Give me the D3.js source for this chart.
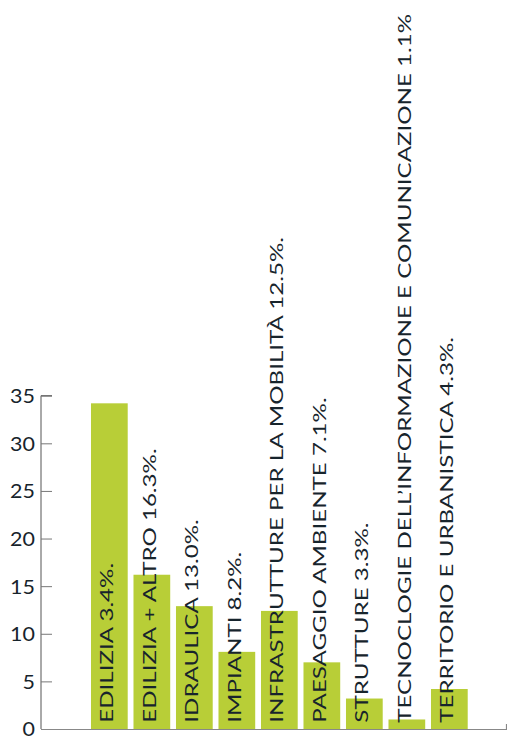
<!DOCTYPE html>
<html><head><meta charset="utf-8">
<script src="https://cdn.jsdelivr.net/npm/d3@7"></script>
<style>body{margin:0;background:#fff}svg{display:block}</style>
</head><body>
<svg id="c" width="507" height="738"></svg>
<script>
const categories = ["EDILIZIA","EDILIZIA + ALTRO","IDRAULICA","IMPIANTI","INFRASTRUTTURE PER LA MOBILITÀ","PAESAGGIO AMBIENTE","STRUTTURE","TECNOCLOGIE DELL’INFORMAZIONE E COMUNICAZIONE","TERRITORIO E URBANISTICA"];
const values = [34.2, 16.2, 12.9, 8.1, 12.4, 7.0, 3.2, 1.0, 4.2];
const labels = ["EDILIZIA 3.4%.","EDILIZIA + ALTRO 16.3%.","IDRAULICA 13.0%.","IMPIANTI 8.2%.","INFRASTRUTTURE PER LA MOBILITÀ 12.5%.","PAESAGGIO AMBIENTE 7.1%.","STRUTTURE 3.3%.","TECNOCLOGIE DELL’INFORMAZIONE E COMUNICAZIONE 1.1%","TERRITORIO E URBANISTICA 4.3%."];
const yTicks = [0,5,10,15,20,25,30,35];

const svg = d3.select("#c");
const font = "Lato, 'Open Sans', sans-serif";
const textColor = "#17242c";
const x = d3.scaleBand().domain(categories).range([88.1, 470.6]).paddingInner(0.136).paddingOuter(0.068);
const y = d3.scaleLinear().domain([0,35]).range([729, 395.7]);

svg.selectAll("rect.bar").data(values).join("rect")
  .attr("class","bar")
  .attr("x",(d,i)=>x(categories[i]))
  .attr("width",x.bandwidth())
  .attr("y",d=>y(d))
  .attr("height",d=>y(0)-y(d))
  .attr("fill","#b8ce37");

// y axis
const yAxis = svg.append("g").attr("transform","translate(41,0)")
  .call(d3.axisRight(y).tickValues(yTicks).tickSize(11).tickFormat(d3.format("d")));
yAxis.select(".domain").attr("stroke","#555").attr("d","M11,395.7H0V729");
yAxis.selectAll(".tick line").attr("stroke","#777");
yAxis.selectAll(".tick text").attr("x",-6/1.13).attr("text-anchor","end")
  .attr("transform","scale(1.13,1)")
  .attr("font-family",font).attr("font-size",19).attr("fill",textColor).attr("dy","0.36em");

// x baseline
svg.append("path").attr("d","M41,729.5H506.5V724").attr("fill","none").attr("stroke","#888").attr("stroke-width",1.2);

// labels
svg.selectAll("text.lab").data(labels).join("text")
  .attr("class","lab")
  .attr("transform",(d,i)=>`translate(${x(categories[i])+x.bandwidth()/2+4},722.7) rotate(-90) scale(1.42,1)`)
  .attr("text-anchor","start")
  .attr("font-family",font).attr("font-size",17).attr("fill",textColor)
  .text(d=>d);
</script>
</body></html>
